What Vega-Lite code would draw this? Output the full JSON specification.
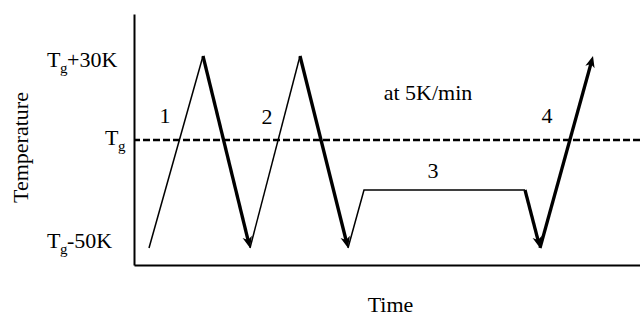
{
  "$schema": "https://vega.github.io/schema/vega-lite/v6.json",
  "width": 506,
  "height": 251,
  "autosize": "none",
  "padding": {"left": 134, "top": 14, "right": 0, "bottom": 53},
  "background": "white",
  "config": {
    "view": {"stroke": null},
    "font": "Liberation Serif",
    "axis": {
      "domainColor": "black",
      "domainWidth": 2,
      "ticks": false,
      "labels": false,
      "grid": false,
      "titleFont": "Liberation Serif",
      "titleFontSize": 22,
      "titleFontWeight": "normal",
      "titleColor": "black"
    },
    "axisX": {"titleX": 256, "titleY": 46, "titleBaseline": "alphabetic", "titleAlign": "center"},
    "axisY": {"titleX": -114, "titleY": 133, "titleAngle": -90, "titleBaseline": "middle", "titleAlign": "center", "titleColor": "#000000"}
  },
  "datasets": {
    "path": [
      {"seg": 1, "rate": "other", "t": 15, "T": 17, "ord": 1},
      {"seg": 1, "rate": "other", "t": 69, "T": 209, "ord": 2},
      {"seg": 2, "rate": "5K/min", "t": 69, "T": 209, "ord": 1},
      {"seg": 2, "rate": "5K/min", "t": 114.5, "T": 23, "ord": 2},
      {"seg": 3, "rate": "other", "t": 116, "T": 17, "ord": 1},
      {"seg": 3, "rate": "other", "t": 166, "T": 209, "ord": 2},
      {"seg": 4, "rate": "5K/min", "t": 166, "T": 209, "ord": 1},
      {"seg": 4, "rate": "5K/min", "t": 212.5, "T": 23, "ord": 2},
      {"seg": 5, "rate": "other", "t": 214, "T": 17, "ord": 1},
      {"seg": 5, "rate": "other", "t": 230, "T": 75, "ord": 2},
      {"seg": 5, "rate": "other", "t": 391, "T": 75, "ord": 3},
      {"seg": 6, "rate": "5K/min", "t": 391, "T": 75, "ord": 1},
      {"seg": 6, "rate": "5K/min", "t": 404.5, "T": 23, "ord": 2},
      {"seg": 7, "rate": "5K/min", "t": 406, "T": 17, "ord": 1},
      {"seg": 7, "rate": "5K/min", "t": 457.4, "T": 203, "ord": 2}
    ],
    "arrows": [
      {"t": 116, "T": 17, "dir": "down"},
      {"t": 214, "T": 17, "dir": "down"},
      {"t": 406, "T": 17, "dir": "down"},
      {"t": 459, "T": 209, "dir": "up"}
    ],
    "notes": [
      {"t": 31, "T": 142, "text": "1"},
      {"t": 133, "T": 141, "text": "2"},
      {"t": 299, "T": 87, "text": "3"},
      {"t": 413, "T": 142, "text": "4"},
      {"t": 294, "T": 165, "text": "at 5K/min"}
    ],
    "ylabels": [
      {"t": -87, "T": 198, "rest": "+30K"},
      {"t": -29, "T": 120, "rest": ""},
      {"t": -87, "T": 17, "rest": "-50K"}
    ],
    "ref": [{"T": 125}]
  },
  "layer": [
    {
      "data": {"name": "ref"},
      "mark": {"type": "rule", "color": "black", "strokeWidth": 2.5, "strokeDash": [7, 3]},
      "encoding": {
        "y": {"field": "T", "type": "quantitative", "title": "Temperature", "scale": {"domain": [0, 251], "nice": false, "zero": false}}
      }
    },
    {
      "data": {"name": "path"},
      "mark": {"type": "line", "color": "black", "strokeCap": "butt", "strokeJoin": "miter"},
      "encoding": {
        "x": {"field": "t", "type": "quantitative", "title": "Time", "scale": {"domain": [0, 506], "nice": false, "zero": false}},
        "y": {"field": "T", "type": "quantitative", "title": "Temperature", "scale": {"domain": [0, 251], "nice": false, "zero": false}},
        "detail": {"field": "seg", "type": "nominal"},
        "order": {"field": "ord", "type": "quantitative"},
        "strokeWidth": {"field": "rate", "type": "nominal", "scale": {"domain": ["5K/min", "other"], "range": [3.3, 1.5]}, "legend": null}
      }
    },
    {
      "data": {"name": "arrows"},
      "mark": {"type": "point", "shape": "M0,0L-0.42,-1L0,-0.72L0.42,-1Z", "filled": true, "color": "black", "opacity": 1, "size": 520, "strokeWidth": 0},
      "encoding": {
        "x": {"field": "t", "type": "quantitative", "title": "Time", "scale": {"domain": [0, 506], "nice": false, "zero": false}},
        "y": {"field": "T", "type": "quantitative", "title": "Temperature", "scale": {"domain": [0, 251], "nice": false, "zero": false}},
        "angle": {"field": "dir", "type": "nominal", "scale": {"domain": ["down", "up"], "range": [-14, 195.4]}, "legend": null}
      }
    },
    {
      "data": {"name": "notes"},
      "mark": {"type": "text", "font": "Liberation Serif", "fontSize": 22, "color": "black", "align": "center", "baseline": "alphabetic"},
      "encoding": {
        "x": {"field": "t", "type": "quantitative", "title": "Time", "scale": {"domain": [0, 506], "nice": false, "zero": false}},
        "y": {"field": "T", "type": "quantitative", "title": "Temperature", "scale": {"domain": [0, 251], "nice": false, "zero": false}},
        "text": {"field": "text", "type": "nominal"}
      }
    },
    {
      "data": {"name": "ylabels"},
      "mark": {"type": "text", "font": "Liberation Serif", "fontSize": 22, "color": "black", "align": "left", "baseline": "alphabetic", "text": "T"},
      "encoding": {
        "x": {"field": "t", "type": "quantitative", "title": "Time", "scale": {"domain": [0, 506], "nice": false, "zero": false}},
        "y": {"field": "T", "type": "quantitative", "title": "Temperature", "scale": {"domain": [0, 251], "nice": false, "zero": false}}
      }
    },
    {
      "data": {"name": "ylabels"},
      "mark": {"type": "text", "font": "Liberation Serif", "fontSize": 15, "color": "black", "align": "left", "baseline": "alphabetic", "text": "g", "dx": 13, "dy": 6},
      "encoding": {
        "x": {"field": "t", "type": "quantitative", "title": "Time", "scale": {"domain": [0, 506], "nice": false, "zero": false}},
        "y": {"field": "T", "type": "quantitative", "title": "Temperature", "scale": {"domain": [0, 251], "nice": false, "zero": false}}
      }
    },
    {
      "data": {"name": "ylabels"},
      "mark": {"type": "text", "font": "Liberation Serif", "fontSize": 22, "color": "black", "align": "left", "baseline": "alphabetic", "dx": 20},
      "encoding": {
        "x": {"field": "t", "type": "quantitative", "title": "Time", "scale": {"domain": [0, 506], "nice": false, "zero": false}},
        "y": {"field": "T", "type": "quantitative", "title": "Temperature", "scale": {"domain": [0, 251], "nice": false, "zero": false}},
        "text": {"field": "rest", "type": "nominal"}
      }
    }
  ]
}
